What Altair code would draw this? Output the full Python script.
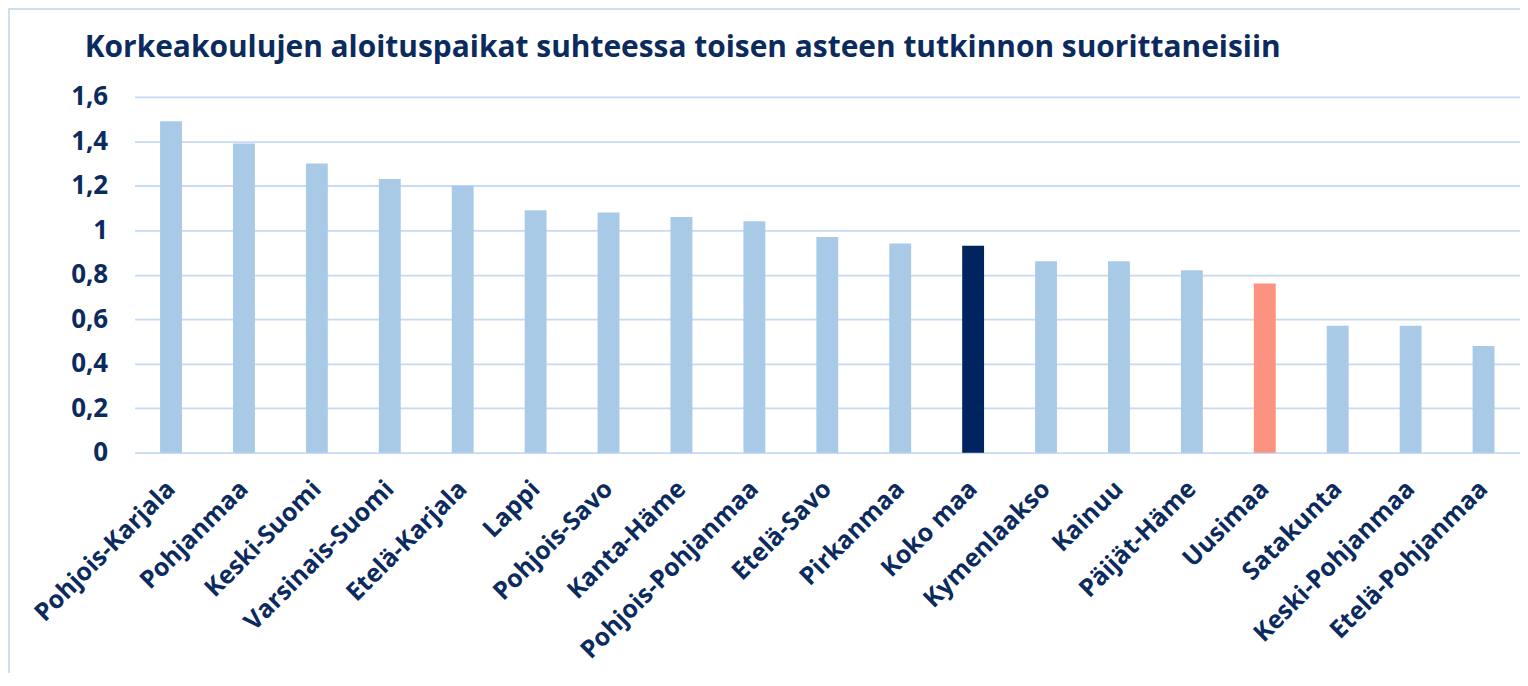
import altair as alt
import pandas as pd

regions = ["Pohjois-Karjala", "Pohjanmaa", "Keski-Suomi", "Varsinais-Suomi", "Etelä-Karjala",
           "Lappi", "Pohjois-Savo", "Kanta-Häme", "Pohjois-Pohjanmaa", "Etelä-Savo",
           "Pirkanmaa", "Koko maa", "Kymenlaakso", "Kainuu", "Päijät-Häme",
           "Uusimaa", "Satakunta", "Keski-Pohjanmaa", "Etelä-Pohjanmaa"]
values = [1.49, 1.39, 1.30, 1.23, 1.20,
          1.09, 1.08, 1.06, 1.04, 0.97,
          0.94, 0.93, 0.86, 0.86, 0.82,
          0.76, 0.57, 0.57, 0.48]
groups = ["maakunta"] * 11 + ["koko maa"] + ["maakunta"] * 3 + ["uusimaa"] + ["maakunta"] * 3

group_domain = ["maakunta", "koko maa", "uusimaa"]
group_colors = ["#A9CAE7", "#00245F", "#FC9380"]
y_ticks = [0, 0.2, 0.4, 0.6, 0.8, 1.0, 1.2, 1.4, 1.6]

TITLE = "Korkeakoulujen aloituspaikat suhteessa toisen asteen tutkinnon suorittaneisiin"
NAVY = "#0B2A5E"
GRID = "#C6DAF4"
FONT = "Open Sans"

df = pd.DataFrame({"region": regions, "value": values, "group": groups})
title_df = pd.DataFrame({"title": [TITLE]})

bars = alt.Chart(df).mark_bar().encode(
    x=alt.X("region:N", sort=regions,
            scale=alt.Scale(paddingInner=0.7, paddingOuter=0.35),
            axis=alt.Axis(title=None, labelAngle=-45, labelAlign="right", labelBaseline="middle",
                          labelPadding=32, ticks=False, domain=False, labelFont=FONT,
                          labelFontSize=25, labelFontWeight="bold", labelColor=NAVY,
                          labelOverlap=False, labelLimit=400)),
    y=alt.Y("value:Q", scale=alt.Scale(domain=[0, 1.6], nice=False),
            axis=alt.Axis(title=None, values=y_ticks, format=",.1~f", ticks=False, domain=False,
                          labelFont=FONT, labelFontSize=26, labelFontWeight="bold",
                          labelColor=NAVY, labelPadding=27, gridColor=GRID, gridWidth=1.8,
                          labelExpr="replace(datum.label, '.', ',')")),
    color=alt.Color("group:N", scale=alt.Scale(domain=group_domain, range=group_colors), legend=None),
)

frame = alt.Chart(title_df).mark_rect(fill=None, stroke="#BCD5EE", strokeWidth=1.5).encode(
    x=alt.value(-126), x2=alt.value(1420), y=alt.value(-88), y2=alt.value(700)
)

title = alt.Chart(title_df).mark_text(
    align="left", baseline="alphabetic", font=FONT, fontSize=30, fontWeight="bold", color=NAVY
).encode(x=alt.value(-50), y=alt.value(-40), text="title:N")

chart = alt.layer(frame, bars, title).properties(
    width=1390, height=357,
    autosize=alt.AutoSizeParams(type="none"),
    padding={"left": 127, "top": 88, "right": 0, "bottom": 220},
).configure_view(stroke=None)

chart.save("out.html", embed_options={"renderer": "svg", "actions": False})
